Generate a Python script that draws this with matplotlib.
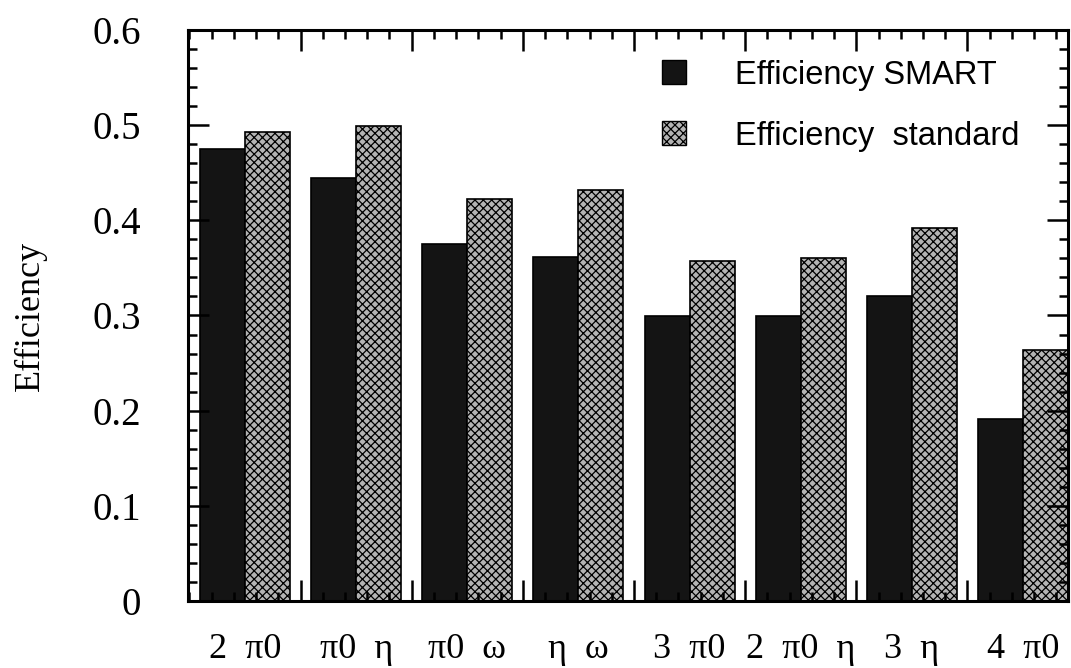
import numpy as np
import matplotlib
matplotlib.use('Agg')
import matplotlib.pyplot as plt
import matplotlib.patches as patches
from matplotlib.ticker import MultipleLocator, FixedLocator, FuncFormatter

# Efficiency per final state
channels = ['2  π0', 'π0  η', 'π0  ω', 'η  ω', '3  π0', '2  π0  η', '3  η', '4  π0']
eff_smart = [0.475, 0.445, 0.375, 0.361, 0.299, 0.300, 0.320, 0.191]
eff_standard = [0.493, 0.499, 0.422, 0.432, 0.357, 0.360, 0.392, 0.264]
series_labels = ['Efficiency SMART', 'Efficiency  standard']

plt.rcParams['hatch.linewidth'] = 0.9

fig = plt.figure(figsize=(10.71, 6.68), dpi=100)
ax = fig.add_axes([188 / 1071, 1 - 601 / 668, 880 / 1071, 571 / 668])

x = np.arange(len(channels))
w = 0.405

# dark bars (SMART) and halftone bars (standard)
ax.bar(x, eff_smart, width=w, align='edge', color='#141414',
       edgecolor='black', linewidth=1.2)
ax.bar(x + w, eff_standard, width=w, align='edge', color='#b4b4b4',
       edgecolor='black', linewidth=1.2, hatch='xxxx')

ax.set_xlim(-0.108, 7.81)
ax.set_ylim(0, 0.6)

# ticks: long ones between groups, short ones in between
ax.xaxis.set_major_locator(FixedLocator(x[:-1] + 0.905))
ax.xaxis.set_minor_locator(FixedLocator(np.arange(-0.095, 7.81, 0.2)))
ax.yaxis.set_major_locator(MultipleLocator(0.1))
ax.yaxis.set_minor_locator(MultipleLocator(0.02))
ax.yaxis.set_major_formatter(FuncFormatter(lambda v, p: '0' if abs(v) < 1e-9 else '%.1f' % v))
ax.tick_params(which='both', direction='in', top=True, right=True, width=1.8)
ax.tick_params(which='major', length=15)
ax.tick_params(which='minor', length=6.5)
ax.tick_params(axis='x', which='both', labelbottom=False)
ax.tick_params(axis='y', labelsize=28, pad=34)
for lab in ax.get_yticklabels():
    lab.set_fontfamily('Liberation Serif')

for s in ax.spines.values():
    s.set_linewidth(2.2)

# channel names under each pair of bars
for xi, name in zip(x, channels):
    ax.text(xi + w, -0.051, name, transform=ax.transData, ha='center', va='center',
            fontsize=26, family='Liberation Serif')

ax.set_ylabel('Efficiency', fontsize=26, family='Liberation Serif')
ax.yaxis.set_label_coords(-0.16, 0.5)

handles = [patches.Rectangle((0, 0), 1, 1, facecolor='#141414', edgecolor='black'),
           patches.Rectangle((0, 0), 1, 1, facecolor='#b4b4b4', edgecolor='black', hatch='xxxx')]
ax.legend(handles, series_labels, loc='upper left', bbox_to_anchor=(0.509, 0.994),
          frameon=False, prop={'family': 'Liberation Sans', 'size': 23.5},
          handlelength=0.74, handleheight=0.74, handletextpad=1.5,
          labelspacing=0.92, borderpad=0.3)

fig.savefig('out.png', dpi=100)
